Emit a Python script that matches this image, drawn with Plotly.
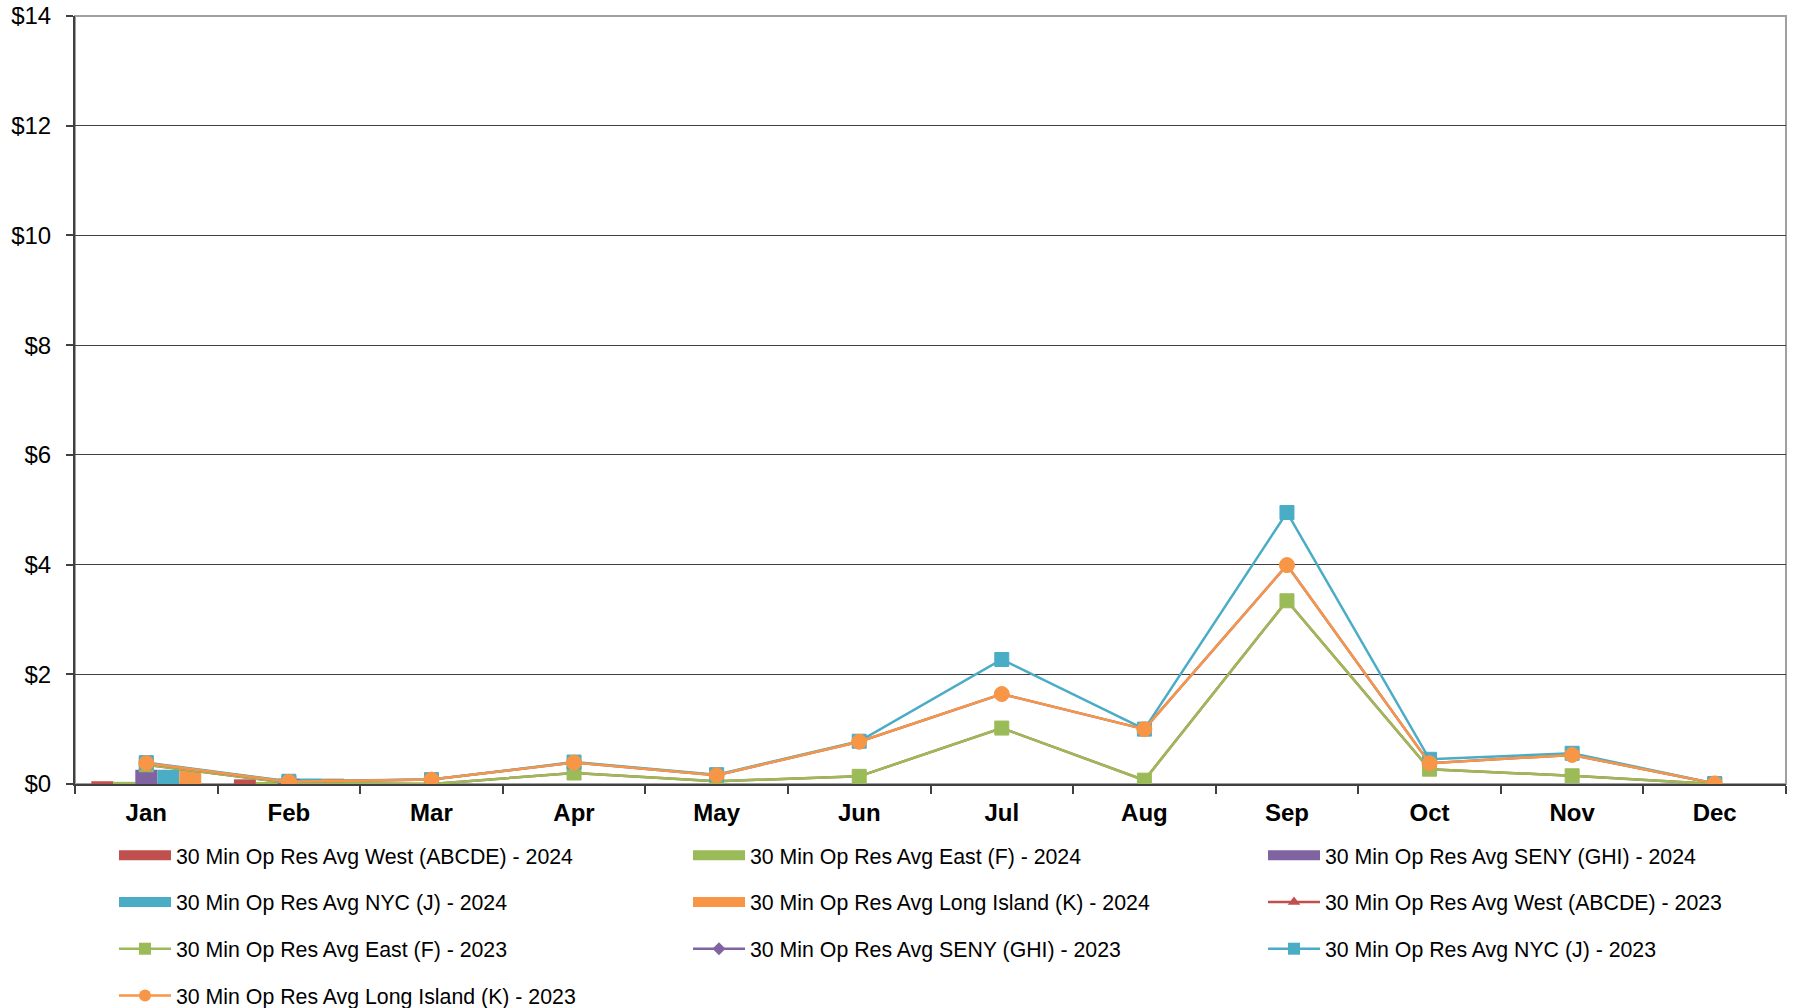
import plotly.graph_objects as go

months = ["Jan", "Feb", "Mar", "Apr", "May", "Jun", "Jul", "Aug", "Sep", "Oct", "Nov", "Dec"]

# 2024 (bars, partial year)
west_2024 = [0.05, 0.085]
east_2024 = [0.04, 0.03]
seny_2024 = [0.26, 0.10]
nyc_2024 = [0.26, 0.10]
li_2024 = [0.26, 0.10]

# 2023 (lines)
west_2023 = [0.35, 0.02, 0.00, 0.20, 0.05, 0.14, 1.02, 0.07, 3.34, 0.27, 0.15, 0.00]
east_2023 = [0.35, 0.02, 0.00, 0.20, 0.05, 0.14, 1.02, 0.07, 3.34, 0.27, 0.15, 0.00]
seny_2023 = [0.38, 0.04, 0.08, 0.39, 0.16, 0.77, 1.64, 1.00, 3.99, 0.38, 0.53, 0.01]
nyc_2023 = [0.39, 0.05, 0.08, 0.40, 0.17, 0.78, 2.27, 1.00, 4.95, 0.45, 0.56, 0.01]
li_2023 = [0.38, 0.04, 0.08, 0.39, 0.16, 0.77, 1.64, 1.00, 3.99, 0.38, 0.53, 0.01]

y_ticks = [0, 2, 4, 6, 8, 10, 12, 14]

C_WEST = "#C0504D"
C_EAST = "#9BBB59"
C_SENY = "#8064A2"
C_NYC = "#4BACC6"
C_LI = "#F79646"

FONT = "Liberation Sans, Arial, sans-serif"

fig = go.Figure()

bars = [
    ("30 Min Op Res Avg West (ABCDE) - 2024", west_2024, C_WEST),
    ("30 Min Op Res Avg East (F) - 2024", east_2024, C_EAST),
    ("30 Min Op Res Avg SENY (GHI) - 2024", seny_2024, C_SENY),
    ("30 Min Op Res Avg NYC (J) - 2024", nyc_2024, C_NYC),
    ("30 Min Op Res Avg Long Island (K) - 2024", li_2024, C_LI),
]
for name, vals, col in bars:
    fig.add_trace(go.Bar(x=months[:len(vals)], y=vals, name=name, marker=dict(color=col, line=dict(width=0)),
                         showlegend=False))

lines = [
    ("30 Min Op Res Avg West (ABCDE) - 2023", west_2023, C_WEST, "triangle-up", 10),
    ("30 Min Op Res Avg East (F) - 2023", east_2023, C_EAST, "square", 14),
    ("30 Min Op Res Avg SENY (GHI) - 2023", seny_2023, C_SENY, "diamond", 9),
    ("30 Min Op Res Avg NYC (J) - 2023", nyc_2023, C_NYC, "square", 14),
    ("30 Min Op Res Avg Long Island (K) - 2023", li_2023, C_LI, "circle", 15),
]
for name, vals, col, sym, sz in lines:
    fig.add_trace(go.Scatter(x=months, y=vals, name=name, mode="lines+markers",
                             line=dict(color=col, width=2.5),
                             marker=dict(symbol=sym, size=sz, color=col, line=dict(width=1, color=col)),
                             showlegend=False))

# legend entries (ordered as in reference, three columns)
legend_entries = [
    ("legend", bars[0], None),
    ("legend", bars[3], None),
    ("legend", lines[1], lines[1]),
    ("legend", lines[4], lines[4]),
    ("legend2", bars[1], None),
    ("legend2", bars[4], None),
    ("legend2", lines[2], lines[2]),
    ("legend3", bars[2], None),
    ("legend3", lines[0], lines[0]),
    ("legend3", lines[3], lines[3]),
]
for i, (lg, item, ln) in enumerate(legend_entries):
    name, col = item[0], item[2]
    if ln is None:
        fig.add_trace(go.Scatter(x=[None], y=[None], name=name, mode="lines",
                                 line=dict(color=col, width=10), legend=lg, legendgroup=f"g{i}"))
    else:
        fig.add_trace(go.Scatter(x=[None], y=[None], name=name, mode="lines+markers",
                                 line=dict(color=col, width=2.5),
                                 marker=dict(symbol=ln[3], size=min(ln[4] + 1, 12), color=col),
                                 legend=lg, legendgroup=f"g{i}"))

W, H = 1793, 1008
# desired plot area in page pixels: x 75..1786, y 16..784
ML, MT = 75, 16
MR, MB = W - 1786, H - 784
PW = W - ML - MR
PH = H - MT - MB


def px_x(p):
    return (p - ML) / PW


def px_y(p):
    return (H - MB - p) / PH


legend_common = dict(font=dict(family=FONT, size=21.3, color="#000000"), bgcolor="rgba(0,0,0,0)",
                     orientation="v", xanchor="left", yanchor="top", itemwidth=52,
                     traceorder="grouped", tracegroupgap=16, itemclick=False, itemdoubleclick=False)

fig.update_layout(
    width=W, height=H,
    margin=dict(l=ML, r=MR, t=MT, b=MB, autoexpand=False),
    paper_bgcolor="white", plot_bgcolor="white",
    barmode="group", bargap=0.229, bargroupgap=0,
    font=dict(family=FONT, color="#000000"),
    legend=dict(x=px_x(114), y=px_y(835), **legend_common),
    legend2=dict(x=px_x(688), y=px_y(835), **legend_common),
    legend3=dict(x=px_x(1263), y=px_y(835), **legend_common),
    xaxis=dict(type="category", categoryorder="array", categoryarray=months,
               range=[-0.5, 11.5],
               tickvals=months, ticktext=months,
               tickfont=dict(family=FONT, size=24, color="#000000", weight="bold"),
               showline=True, linecolor="#404040", linewidth=2,
               ticks="outside", tickson="boundaries", ticklen=8, tickcolor="#404040", tickwidth=1.5,
               ticklabelstandoff=6,
               showgrid=False, zeroline=False, automargin=False),
    yaxis=dict(range=[0, 14], tickvals=y_ticks, ticktext=[f"${v}" for v in y_ticks],
               tickfont=dict(family=FONT, size=24, color="#000000"),
               showline=True, linecolor="#404040", linewidth=2,
               ticks="outside", ticklen=7, tickcolor="#404040", tickwidth=1.5,
               ticklabelstandoff=10, ticklabeloverflow="allow",
               showgrid=True, gridcolor="#404040", gridwidth=1.2, zeroline=False, automargin=False),
    shapes=[dict(type="rect", xref="paper", yref="paper", x0=0, x1=1, y0=0, y1=1,
                 line=dict(color="#A0A0A0", width=2), layer="below")],
)

fig.write_html("out.html", config={"displayModeBar": False},
               post_script="document.body.style.margin='0';document.body.style.overflow='hidden';")
